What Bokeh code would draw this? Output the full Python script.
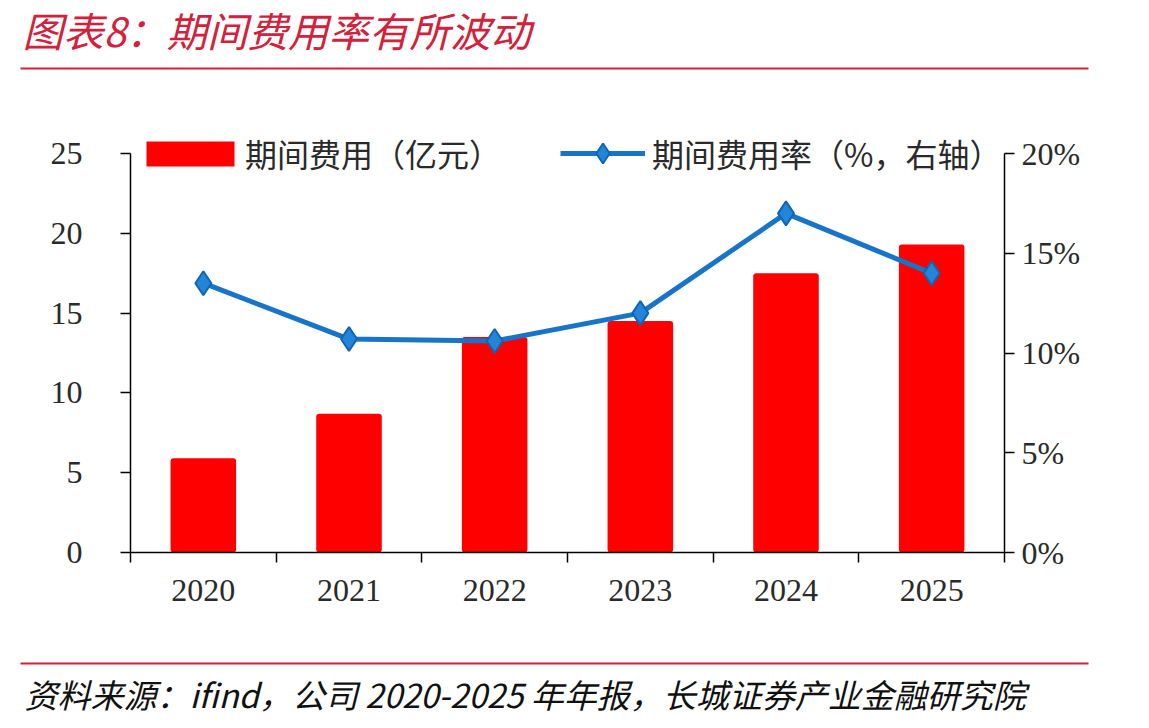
from bokeh.plotting import figure
from bokeh.models import (Range1d, LinearAxis, FixedTicker, Legend, LegendItem,
                          PrintfTickFormatter, ColumnDataSource)
from bokeh.layouts import column
from bokeh.embed import file_html
from bokeh.resources import INLINE
from bokeh.core.properties import value

# ---- data -------------------------------------------------------------
years = ["2020", "2021", "2022", "2023", "2024", "2025"]
expense = [5.9, 8.7, 13.5, 14.5, 17.5, 19.3]          # 期间费用（亿元）
expense_rate = [13.5, 10.7, 10.6, 12.0, 17.0, 14.0]   # 期间费用率（%）
left_ticks = [0, 5, 10, 15, 20, 25]
right_ticks = [0, 5, 10, 15, 20]

title_text = "图表8：期间费用率有所波动"
source_text = "资料来源：ifind，公司 2020-2025 年年报，长城证券产业金融研究院"
bar_label = "期间费用（亿元）"
line_label = "期间费用率（%，右轴）"

# ---- styles -----------------------------------------------------------
W = 1149
RULE_RED = "#d3203b"
BAR_RED = "#ff0000"
LINE_BLUE = "#1874c8"
CJK = "Noto Sans CJK SC"
SERIF = "Liberation Serif"
TICK_COLOR = "#2a2a2a"

# the plotting area reaches a little above the top ticks so the legend
# can sit on the upper edge of the axes
Y_TOP = 27.07
Y2_TOP = Y_TOP * 20 / 25


def blank(height):
    f = figure(width=W, height=height, x_range=Range1d(0, W), y_range=Range1d(height, 0),
               min_border=0, x_axis_type=None, y_axis_type=None,
               output_backend="svg", toolbar_location=None, outline_line_color=None,
               frame_align=False)
    f.grid.visible = False
    return f


# ---- header: title and rule -----------------------------------------
header = blank(82)
header.text(x=[22], y=[29], text=[title_text], text_font=value(CJK), text_font_style="italic",
            text_font_size="40.5px", text_color=RULE_RED, text_baseline="middle", text_align="left")
header.segment(x0=[20], y0=[68], x1=[1088], y1=[68], line_color=RULE_RED, line_width=2)

# ---- main chart -------------------------------------------------------
n = len(years)
xpos = [i + 0.5 for i in range(n)]
src = ColumnDataSource(dict(x=xpos, expense=expense, rate=expense_rate))

p = figure(width=W, height=578, x_range=Range1d(0, n), y_range=Range1d(0, Y_TOP),
           min_border_left=130, min_border_right=145, min_border_top=38, min_border_bottom=108,
           x_axis_type=None, y_axis_type=None, output_backend="svg", toolbar_location=None,
           outline_line_color=None)
p.grid.visible = False
p.extra_y_ranges = {"rate": Range1d(0, Y2_TOP)}

# left axis
ly = LinearAxis(ticker=FixedTicker(ticks=left_ticks), bounds=(0, 25))
# right axis (percent)
ry = LinearAxis(ticker=FixedTicker(ticks=right_ticks), y_range_name="rate", bounds=(0, 20),
                formatter=PrintfTickFormatter(format="%d%%"))
# bottom axis: labels at bar centres, tick marks at category boundaries
bx = LinearAxis(ticker=FixedTicker(ticks=xpos, minor_ticks=list(range(n + 1))),
                major_label_overrides={x: y for x, y in zip(xpos, years)})

for ax in (ly, ry, bx):
    ax.axis_line_color = "black"
    ax.axis_line_width = 1.5
    ax.major_tick_line_color = "black"
    ax.major_tick_line_width = 1.5
    ax.major_tick_in = 0
    ax.major_tick_out = 10
    ax.minor_tick_line_color = None
    ax.major_label_text_font = SERIF
    ax.major_label_text_font_size = "32px"
    ax.major_label_text_color = TICK_COLOR

ly.major_label_standoff = 38
ry.major_label_standoff = 7
bx.major_tick_line_color = None
bx.major_tick_out = 0
bx.minor_tick_line_color = "black"
bx.minor_tick_line_width = 1.5
bx.minor_tick_in = 0
bx.minor_tick_out = 10
bx.major_label_standoff = 17

p.add_layout(ly, "left")
p.add_layout(ry, "right")
p.add_layout(bx, "below")

bars = p.vbar(x="x", top="expense", width=0.45, source=src, fill_color=BAR_RED,
              line_color=None, border_radius=3)
line = p.line(x="x", y="rate", source=src, y_range_name="rate",
              line_color=LINE_BLUE, line_width=5)
marks = p.scatter(x="x", y="rate", source=src, y_range_name="rate", marker="diamond",
                  size=24, fill_color="#2384d8", line_color="#0e65b6", line_width=2)


def make_legend(item, loc, gw, gh, standoff):
    lg = Legend(items=[item], orientation="horizontal", location=loc)
    lg.padding = 0
    lg.margin = 0
    lg.glyph_width = gw
    lg.glyph_height = gh
    lg.label_height = gh
    lg.label_standoff = standoff
    lg.label_text_font = CJK
    lg.label_text_font_size = "32px"
    lg.label_text_color = TICK_COLOR
    lg.background_fill_alpha = 0
    lg.border_line_color = None
    return lg


p.add_layout(make_legend(LegendItem(label=bar_label, renderers=[bars]),
                         (5, 376), 110, 31, 0), "center")
p.add_layout(make_legend(LegendItem(label=line_label, renderers=[line, marks]),
                         (430, 374), 85, 50, 7), "center")

# ---- footer: rule and source note -------------------------------------
footer = blank(68)
footer.segment(x0=[20], y0=[3], x1=[1088], y1=[3], line_color=RULE_RED, line_width=2)
footer.text(x=[24], y=[33], text=[source_text], text_font=value(CJK), text_font_style="italic",
            text_font_size="33px", text_color="#111111", text_baseline="middle", text_align="left")

layout = column(header, p, footer, spacing=0)
open("out.html", "w").write(file_html(layout, INLINE))
